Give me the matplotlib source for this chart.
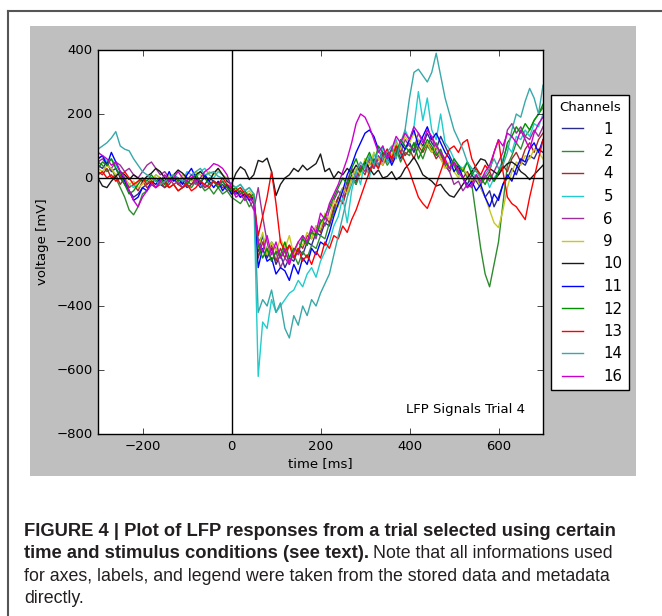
import matplotlib
matplotlib.use("Agg")
import matplotlib.pyplot as plt
from matplotlib.patches import Rectangle
from matplotlib.lines import Line2D

# ---- data (10 ms steps) ----------------------------------------------------
t_ms = list(range(-300, 701, 10))

channels = [1, 2, 4, 5, 6, 9, 10, 11, 12, 13, 14, 16]

lfp_ch1 = [40, 30, 50, 20, 30, 0, -20, -40, -60, -50,
           -30, -20, 0, -10, -20, -30, -10, 0, -20, -10,
           -30, -20, -10, -30, -20, 0, -10, -30, -20, -40,
           -30, -50, -40, -60, -50, -70, -230, -180, -250, -220,
           -270, -240, -280, -250, -260, -220, -240, -200, -210, -170,
           -180, -140, -150, -100, -60, -80, -30, 10, -20, 30,
           50, 20, 60, 40, 80, 50, 70, 100, 60, 90,
           110, 80, 120, 100, 140, 110, 90, 130, 100, 70,
           40, 20, 0, -20, 10, -10, -30, -60, -40, -90,
           -60, -20, 0, 30, 10, 50, 40, 70, 60, 90, 80]
lfp_ch2 = [50, 40, 20, 30, 0, -30, -60, -100, -115, -90,
           -50, -40, -20, -30, -10, -20, -30, -20, -40, -30,
           -20, -30, -10, -20, -40, -30, -50, -30, -50, -40,
           -60, -70, -80, -60, -90, -70, -200, -180, -230, -200,
           -220, -250, -230, -260, -240, -270, -230, -250, -210, -220,
           -180, -190, -140, -110, -60, -30, -50, 0, -20, 20,
           40, 10, 50, 30, 70, 40, 60, 90, 50, 80,
           70, 110, 90, 60, 100, 80, 110, 70, 50, 30,
           40, 10, 30, 0, -20, -120, -220, -300, -340, -270,
           -200, -80, 40, 70, 110, 90, 130, 150, 180, 200, 220]
lfp_ch4 = [20, 10, 30, 0, 10, -20, 0, -30, -20, -40,
           -10, -30, -20, 0, -10, -30, -20, 0, -20, -30,
           -10, -20, 0, -10, -30, -20, -10, -20, -30, -20,
           -40, -50, -40, -60, -50, -60, -250, -200, -240, -210,
           -260, -220, -250, -210, -230, -200, -220, -180, -190, -150,
           -170, -120, -140, -90, -60, -80, -30, 0, -10, 30,
           10, 50, 30, 60, 40, 70, 50, 80, 100, 70,
           90, 60, 100, 80, 110, 90, 60, 80, 40, 20,
           50, 30, 0, 20, -10, 10, -20, 0, 20, -10,
           10, 40, 20, 60, 80, 50, 90, 110, 80, 120, 140]
lfp_ch5 = [60, 70, 50, 60, 40, 20, 0, -20, -30, -10,
           0, -20, -10, 10, 0, -20, -10, 10, 0, -10,
           20, 10, 0, 20, 30, 10, 0, 20, 10, -10,
           -20, -30, -20, -40, -30, -50, -620, -450, -470, -380,
           -420, -400, -380, -360, -350, -320, -340, -300, -280, -310,
           -260, -230, -200, -150, -120, -60, -140, -40, 20, -20,
           60, 0, 80, 30, 100, 50, 90, 120, 70, 150,
           120, 160, 270, 180, 250, 150, 120, 200, 110, 90,
           60, 40, 30, 50, 20, 0, -20, 10, -30, 0,
           20, 60, 100, 80, 130, 120, 150, 130, 170, 160, 200]
lfp_ch6 = [50, 60, 40, 30, 50, 40, 20, 30, 10, 0,
           20, 40, 50, 30, 10, 20, 0, -20, -10, -30,
           -20, 0, -20, -10, -30, -20, -10, -20, -10, -30,
           -50, -40, -60, -50, -70, -100, -30, -120, -200, -260,
           -230, -280, -250, -270, -220, -240, -180, -210, -160, -190,
           -130, -150, -100, -70, -40, -60, -10, 30, 0, 40,
           20, 60, 30, 70, 50, 90, 60, 110, 80, 120,
           100, 90, 140, 120, 100, 130, 80, 60, 40, 20,
           -20, -10, -40, -20, -30, 0, -20, 10, -10, 20,
           50, 80, 150, 170, 140, 160, 130, 120, 150, 130, 160]
lfp_ch9 = [30, 20, 40, 30, 10, 20, 0, -20, -10, -30,
           -20, 0, -10, 10, 0, -10, 10, 0, -10, 10,
           0, -10, 20, 10, 0, 20, 10, 30, 10, 0,
           -30, -40, -30, -50, -40, -60, -220, -170, -240, -200,
           -230, -190, -220, -180, -240, -200, -210, -170, -190, -150,
           -160, -110, -130, -70, -90, -30, -50, 0, 30, 10,
           60, 40, 80, 60, 40, 90, 70, 110, 90, 130,
           110, 140, 120, 90, 110, 80, 100, 60, 30, 50,
           20, 0, 30, 10, -10, 0, -30, -60, -100, -140,
           -155, -100, -30, 20, 50, 40, 70, 60, 90, 80, 60]
lfp_ch10 = [0, -25, -30, -10, 5, 20, 10, -5, 10, 0,
            -10, 5, 15, 30, 20, 0, -10, 10, 25, 15,
            0, -5, 10, 20, 5, -10, 15, 30, 10, -10,
            -20, 15, 35, 25, -5, 10, 55, 50, 62, 20,
            -55, -20, 0, 10, 30, 20, 40, 25, 35, 45,
            75, 20, 30, 0, 20, 10, 30, 15, 40, 20,
            50, 30, 10, 25, 0, 5, 20, -5, 5, 30,
            45, 65, 40, 10, 0, -10, -25, -20, -40, -55,
            -60, -40, -20, 0, 20, 40, 60, 55, 30, 20,
            10, 30, 45, 50, 40, 20, 10, -5, 10, 25, 40]
lfp_ch11 = [60, 70, 40, 80, 50, 20, -10, -40, -70, -60,
            -30, -40, -10, -20, 0, -10, 20, -10, 0, -20,
            10, 30, 0, -20, 10, -10, -30, -10, -40, -20,
            -50, -40, -60, -50, -70, -60, -280, -220, -260, -250,
            -300, -280, -290, -320, -270, -300, -250, -270, -220, -240,
            -200, -210, -170, -120, -80, -40, 10, 40, 80, 110,
            140, 150, 130, 90, 60, 80, 40, 70, 110, 90,
            120, 150, 100, 130, 160, 120, 140, 110, 80, 60,
            20, 40, 0, -30, -10, -40, -20, -60, -90, -50,
            -70, -20, 10, -10, 30, 60, 50, 90, 110, 80, 120]
lfp_ch12 = [30, 50, 40, 60, 30, 10, -20, -50, -40, -20,
            0, -10, 10, -10, 0, -20, 0, 10, -10, 0,
            -20, 0, 10, -10, 0, -20, -10, -30, -10, -30,
            -40, -30, -50, -40, -60, -50, -210, -250, -220, -260,
            -230, -240, -200, -250, -220, -230, -190, -210, -170, -180,
            -140, -120, -90, -60, -30, 0, -20, 30, 60, 20,
            50, 80, 40, 100, 80, 60, 90, 70, 120, 100,
            80, 110, 60, 90, 120, 100, 70, 90, 50, 30,
            60, 40, 20, 50, 10, 30, 0, -20, 10, -10,
            20, 50, 110, 130, 160, 140, 170, 150, 180, 200, 230]
lfp_ch13 = [10, 20, 0, 10, -10, 0, 20, 0, -20, -10,
            0, -20, -10, -30, -20, -10, -30, -20, -40, -30,
            -20, -40, -30, -10, -20, -30, -10, -20, 0, -20,
            -30, -40, -30, -50, -60, -70, -180, -120, -60, 20,
            -80, -200, -230, -210, -250, -220, -260, -240, -270, -230,
            -250, -200, -220, -180, -190, -150, -170, -130, -100, -60,
            -20, 20, 50, 30, 70, 90, 60, 100, 80, 50,
            20, -20, -60, -80, -95, -60, -20, 20, 60, 90,
            100, 80, 110, 120, 60, 30, 10, 40, 20, 80,
            120, 20, -60, -80, -90, -110, -130, -60, 0, 60, 120]
lfp_ch14 = [90, 100, 110, 125, 145, 100, 90, 85, 60, 40,
            20, 10, 0, -10, -20, -10, 0, 10, 0, -10,
            -5, 10, 20, 30, 10, 15, 20, 5, 0, -5,
            -20, -30, -20, -40, -30, -50, -420, -380, -400, -350,
            -420, -390, -470, -500, -430, -460, -400, -430, -380, -400,
            -360, -330, -300, -240, -180, -120, -60, -20, 20, 50,
            30, 70, 40, 90, 60, 80, 100, 60, 110, 150,
            250, 330, 340, 320, 300, 330, 390, 320, 250, 200,
            150, 120, 90, 50, 30, 20, 0, 10, 30, 60,
            30, 40, 80, 150, 200, 190, 240, 280, 250, 200, 290]
lfp_ch16 = [80, 70, 60, 40, 50, 20, 0, -40, -70, -90,
            -60, -40, -20, -30, -10, 10, -10, 0, 20, 0,
            -10, 10, -10, 0, 20, 30, 45, 40, 30, 10,
            -30, -60, -50, -70, -60, -80, -200, -230, -180, -240,
            -200, -250, -220, -270, -230, -200, -180, -200, -150, -170,
            -110, -130, -80, -50, -20, 20, 60, 110, 170, 200,
            190, 160, 120, 80, 100, 60, 90, 130, 110, 140,
            120, 160, 140, 110, 150, 130, 100, 80, 60, 30,
            50, 20, 0, -30, -20, 10, -10, 20, 40, 80,
            120, 100, 140, 130, 110, 150, 120, 90, 140, 170, 190]

signals = [lfp_ch1, lfp_ch2, lfp_ch4, lfp_ch5, lfp_ch6, lfp_ch9,
           lfp_ch10, lfp_ch11, lfp_ch12, lfp_ch13, lfp_ch14, lfp_ch16]
line_colors = ['#2b2b8c', '#2e8b2e', '#a52a2a', '#22cccc', '#9b2f9b', '#c8c81e',
               '#1a1a1a', '#0000ff', '#009000', '#ff0000', '#38a8a8', '#cc00cc']

caption_bold_1 = "FIGURE 4 | Plot of LFP responses from a trial selected using certain"
caption_bold_2 = "time and stimulus conditions (see text)."
caption_rest_2 = "Note that all informations used"
caption_line_3 = "for axes, labels, and legend were taken from the stored data and metadata"
caption_line_4 = "directly."

# ---- figure -----------------------------------------------------------------
plt.style.use('classic')
plt.rcParams['font.size'] = 9.5

W, H = 662, 616
fig = plt.figure(figsize=(W / 100, H / 100), dpi=100, facecolor='white')


def fx(px):
    return px / W


def fy(py):
    return 1 - py / H


# page frame + gray panel behind the plot
fig.add_artist(Line2D([fx(8), 1], [fy(11), fy(11)], color='#555555', lw=1.5))
fig.add_artist(Line2D([fx(8), fx(8)], [fy(11), 0], color='#555555', lw=1.5))
fig.add_artist(Rectangle((fx(30), fy(476)), fx(636) - fx(30), fy(26) - fy(476),
                         transform=fig.transFigure, facecolor='0.75',
                         edgecolor='none', zorder=0))

ax = fig.add_axes([fx(98), fy(434), fx(543) - fx(98), fy(50) - fy(434)])
for ch, sig, col in zip(channels, signals, line_colors):
    ax.plot(t_ms, sig, color=col, lw=1.0, label=str(ch))
ax.axhline(0, color='k', lw=1.0)
ax.axvline(0, color='k', lw=1.0)

ax.set_xlim(-300, 700)
ax.set_ylim(-800, 400)
ax.set_xticks([-200, 0, 200, 400, 600])
ax.set_yticks(range(-800, 401, 200))
ax.set_xlabel('time [ms]', labelpad=3)
ax.set_ylabel('voltage [mV]')
ax.text(0.96, 0.055, 'LFP Signals Trial 4', transform=ax.transAxes,
        ha='right', va='baseline')

ax.legend(loc='upper left', bbox_to_anchor=(fx(551), fy(95)),
          bbox_transform=fig.transFigure, borderaxespad=0, title='Channels',
          fontsize=10.8, handletextpad=1.1)

# caption
cap = dict(family=['Liberation Sans Narrow', 'Liberation Sans'],
           color='#231f20', va='baseline')
fig.text(fx(24), fy(536), caption_bold_1, fontweight='bold', size=13.2, **cap)
tb = fig.text(fx(24), fy(558), caption_bold_2, fontweight='bold', size=13.2, **cap)
r = fig.canvas.get_renderer()
bb = tb.get_window_extent(r)
fig.text(fx(bb.x1 + 4), fy(558), caption_rest_2, size=12.8, **cap)
fig.text(fx(24), fy(581), caption_line_3, size=12.8, **cap)
fig.text(fx(24), fy(603), caption_line_4, size=12.8, **cap)

fig.savefig('out.png', dpi=100, facecolor='white')
